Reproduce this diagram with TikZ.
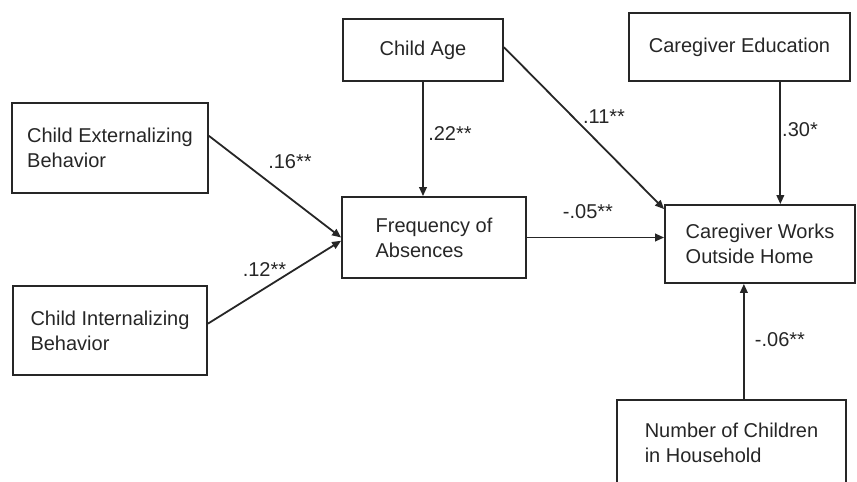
\documentclass[tikz,border=0pt]{standalone}
\usepackage{fontspec}
\setmainfont{Liberation Sans}
\usetikzlibrary{arrows.meta}

\begin{document}
\begin{tikzpicture}[
    x=0.5pt, y=-0.5pt,
    box/.style={draw=black!85, line width=0.9pt, align=left, font=\fontsize{10}{12.5}\selectfont, text=black!85, inner sep=0pt},
    lbl/.style={font=\fontsize{10}{12}\selectfont, text=black!85, inner sep=0pt},
    arr/.style={-{Triangle[length=4.5pt, width=3.8pt]}, line width=0.9pt, draw=black!85}
]
\useasboundingbox (0,0) rectangle (857,482);
% variables
\node[box, minimum width=98pt, minimum height=45pt] (ext) at (110,148) {Child Externalizing\\Behavior};
\node[box, minimum width=97pt, minimum height=44.5pt] (int) at (110,330.5) {Child Internalizing\\Behavior};
\node[box, minimum width=92pt, minimum height=40.5pt] (freq) at (434,237.5) {Frequency of\\Absences};
\node[box, minimum width=80pt, minimum height=31pt] (age) at (423,50) {Child Age};
\node[box, minimum width=110.5pt, minimum height=34pt] (edu) at (739.5,47) {Caregiver Education};
\node[box, minimum width=95pt, minimum height=39pt] (works) at (760,244) {Caregiver Works\\Outside Home};
\node[box, minimum width=114.5pt, minimum height=43pt] (kids) at (731.5,443) {Number of Children\\in Household};
% paths
\draw[arr] (ext.7) -- (freq.west);
\draw[arr] (int.4) -- (freq.182);
\draw[arr] (age) -- (age |- freq.north);
\draw[arr] (age.2) -- (works.160);
\draw[arr] (freq) -- (freq -| works.west);
\draw[arr] (works.63 |- edu.south) -- (works.63);
\draw[arr] (works.-112 |- kids.north) -- (works.-112);
% coefficients
\node[lbl] (c-ext) at (290,162) {.16**};
\node[lbl] (c-int) at (264.5,270) {.12**};
\node[lbl] (c-age) at (450,133.5) {.22**};
\node[lbl] (c-agew) at (604,116.5) {.11**};
\node[lbl] (c-freq) at (588,211.5) {-.05**};
\node[lbl] (c-edu) at (800,130) {.30*};
\node[lbl] (c-kids) at (780,340) {-.06**};
\end{tikzpicture}
\end{document}
